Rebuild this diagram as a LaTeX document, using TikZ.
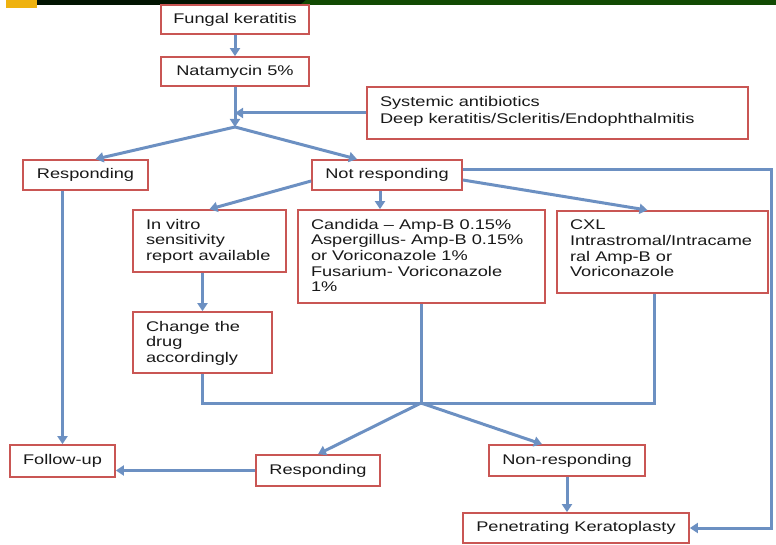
\documentclass[tikz,border=0pt]{standalone}
\usepackage{fontspec}
\setmainfont{Liberation Sans}[FakeStretch=1.3]
\usetikzlibrary{arrows.meta,calc}
\definecolor{boxred}{HTML}{C95654}
\definecolor{linkblue}{HTML}{6C90C2}
\definecolor{barblack}{HTML}{021402}
\definecolor{bargreen}{HTML}{124A03}
\definecolor{baryellow}{HTML}{EFB20F}
% text block pinned to the top of a fixed-size box
\newcommand{\toplines}[3]{\parbox[c][#1][t]{#2}{\raggedright #3}}

\begin{document}
\begin{tikzpicture}[
  x=1pt, y=-1pt,
  font=\fontsize{14}{15.7}\selectfont,
  box/.style={draw=boxred, line width=1.7pt, fill=white, text=black!90,
    inner sep=0pt},
  multi/.style={box, inner xsep=13pt, inner ysep=9pt},
  link/.style={draw=linkblue, line width=3pt},
  flow/.style={link, -{Triangle[length=8pt, width=10pt]}},
]
\useasboundingbox (0,0) rectangle (776,545);

% ---- slide header strip ----------------------------------------------------
\fill[baryellow] (6,0) rectangle (37,8);
\fill[barblack] (37,0) rectangle (306,5);
\fill[bargreen] (300,5) -- (306,0) -- (776,0) -- (776,5) -- cycle;

% ---- first line of treatment -------------------------------------------------
\node[box, minimum width=148pt, minimum height=29pt] (fungal) at (235,19.5)
  {Fungal keratitis};
\node[box, minimum width=148pt, minimum height=29pt] (natam) at (235,71.5)
  {Natamycin 5\%};
\node[multi] (sysab) at (557.5,113) {\toplines{34pt}{355pt}{%
  Systemic antibiotics\\[1.5pt] Deep keratitis/Scleritis/Endophthalmitis}};
\coordinate (fork) at (235,127);

\node[box, minimum width=125pt, minimum height=30pt] (resp) at (85.5,175)
  {Responding};
\node[box, minimum width=150pt, minimum height=30pt] (notresp) at (387,175)
  {Not responding};

\draw[flow] (fungal) -- (natam);
\draw[flow] (natam) -- (fork);
\draw[flow] (sysab.west) -- (sysab.west -| fork);
\draw[flow] (fork) -- ([xshift=10pt]resp.north);
\draw[flow] (fork) -- ([xshift=-30pt]notresp.north);

% ---- options when not responding -------------------------------------------
\node[multi] (vitro) at (209.5,241) {\toplines{44pt}{127pt}{%
  In vitro\\ sensitivity\\ report available}};
\node[multi] (cand) at (421.5,256.5) {\toplines{75pt}{221pt}{%
  Candida -- Amp-B 0.15\%\\ Aspergillus- Amp-B 0.15\%\\
  or Voriconazole 1\%\\ Fusarium- Voriconazole\\ 1\%}};
\node[multi] (cxl) at (662.5,252) {\toplines{64pt}{185pt}{%
  CXL\\ Intrastromal/Intracame\\ ral Amp-B or\\ Voriconazole}};
\node[multi] (change) at (202.5,342.5) {\toplines{43pt}{113pt}{%
  Change the\\ drug\\ accordingly}};
\coordinate (merge) at (421,403);
\coordinate (rim) at (771,0);

\draw[flow] ([yshift=-6pt]notresp.west) -- (vitro.north);
\draw[flow] ([xshift=-7pt]notresp.south)
  -- ([xshift=-7pt]notresp.south |- cand.north);
\draw[flow] ([yshift=-5pt]notresp.east) -- ([xshift=-15pt]cxl.north);
\draw[flow] (vitro.south -| change.north) -- (change.north);

% ---- outcome -----------------------------------------------------------------
\node[box, minimum width=105pt, minimum height=32pt] (follow) at (62.5,461)
  {Follow-up};
\node[box, minimum width=124pt, minimum height=31pt] (resp2) at (318,470.5)
  {Responding};
\node[box, minimum width=156pt, minimum height=31pt] (nonresp) at (567,460.5)
  {Non-responding};
\node[box, minimum width=226pt, minimum height=30pt] (pk) at (576,528)
  {Penetrating Keratoplasty};

\draw[link] (change.south) |- ([xshift=-8pt]cxl.south |- merge)
  -- ([xshift=-8pt]cxl.south);
\draw[link] (cand.south -| merge) -- (merge);
\draw[flow] (merge) -- (resp2.north);
\draw[flow] (merge) -- ([xshift=-25pt]nonresp.north);
\draw[flow] (follow.north |- resp.south) -- (follow.north);
\draw[flow] (resp2.west) -- (resp2.west -| follow.east);
\draw[flow] (nonresp.south) -- (nonresp.south |- pk.north);
\draw[flow] ([yshift=5pt]notresp.east) -| (rim |- pk.east) -- (pk.east);

\end{tikzpicture}
\end{document}
